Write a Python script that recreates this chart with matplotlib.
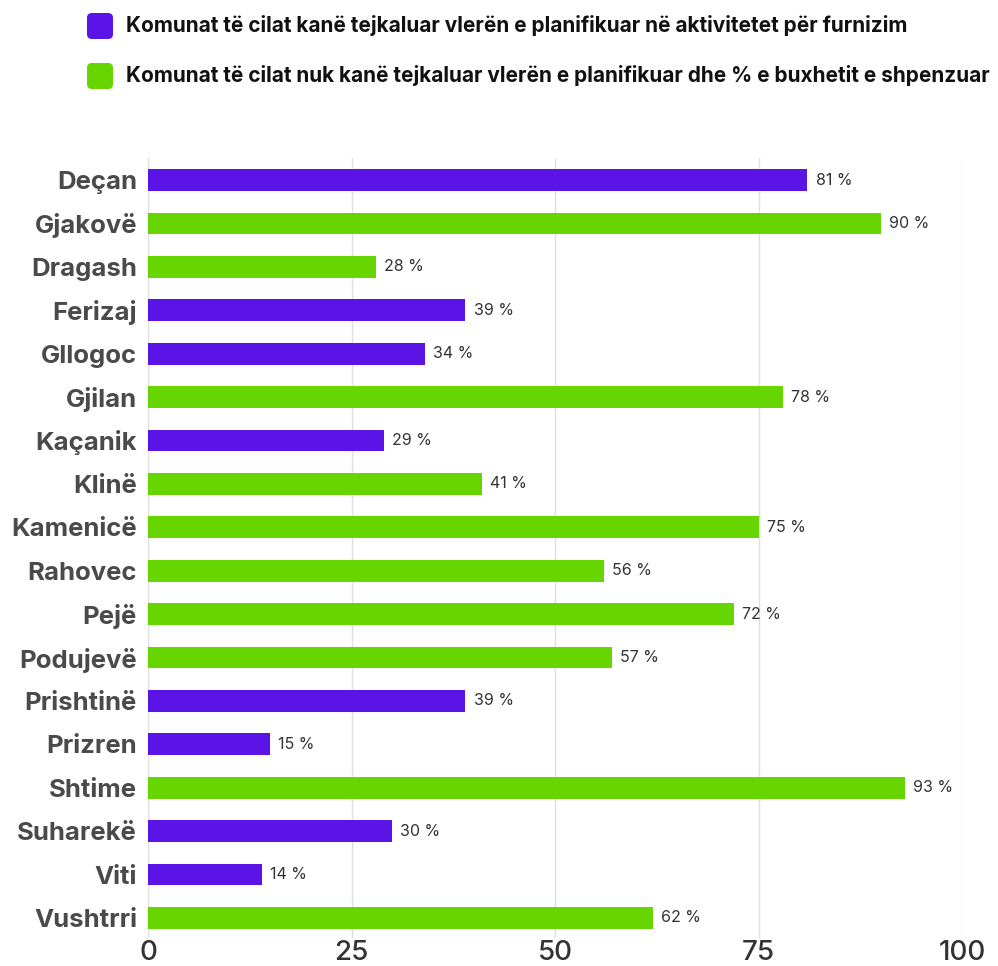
import matplotlib.pyplot as plt
from matplotlib.patches import FancyBboxPatch

komunat = ['Deçan', 'Gjakovë', 'Dragash', 'Ferizaj', 'Gllogoc', 'Gjilan',
           'Kaçanik', 'Klinë', 'Kamenicë', 'Rahovec', 'Pejë', 'Podujevë',
           'Prishtinë', 'Prizren', 'Shtime', 'Suharekë', 'Viti', 'Vushtrri']
vlerat = [81, 90, 28, 39, 34, 78, 29, 41, 75, 56, 72, 57, 39, 15, 93, 30, 14, 62]
# 1 = tejkaluar (vjollce), 0 = nuk kane tejkaluar (jeshile)
tejkaluar = [1, 0, 0, 1, 1, 0, 1, 0, 0, 0, 0, 0, 1, 1, 0, 1, 1, 0]
xticks = [0, 25, 50, 75, 100]
legjenda = ['Komunat të cilat kanë tejkaluar vlerën e planifikuar në aktivitetet për furnizim',
            'Komunat të cilat nuk kanë tejkaluar vlerën e planifikuar dhe % e buxhetit e shpenzuar']

vjollce = '#5A14E6'
jeshile = '#66D500'
ngjyrat = [vjollce if t else jeshile for t in tejkaluar]

plt.rcParams['font.family'] = ['Inter', 'DejaVu Sans']

fig = plt.figure(figsize=(9.98, 9.66), dpi=100)
ax = fig.add_axes([0.1483, 0.0295, 0.8157, 0.8066])

y = list(range(len(komunat)))
ax.barh(y, vlerat, height=0.5, color=ngjyrat, zorder=3)
for yi, v in zip(y, vlerat):
    ax.text(v + 1.0, yi, f'{v} %', va='center', ha='left', fontsize=11.5,
            color='#333333', zorder=4)

ax.set_xlim(0, 100)
ax.set_ylim(17.45, -0.5)
ax.set_yticks(y)
ax.set_yticklabels(komunat, fontsize=18.5, fontweight='bold', color='#4a4a4a')
ax.set_xticks(xticks)
ax.set_xticklabels([str(t) for t in xticks], fontsize=20, fontweight='medium',
                   color='#333333')
ax.tick_params(axis='both', length=0)
ax.tick_params(axis='x', pad=2)
ax.tick_params(axis='y', pad=8)
ax.grid(axis='x', color='#e0e0e0', linewidth=1, zorder=0)
for s in ['top', 'right', 'bottom']:
    ax.spines[s].set_visible(False)
ax.spines['left'].set_color('#e0e0e0')

# legjenda lart
for i, (txt, c) in enumerate(zip(legjenda, [vjollce, jeshile])):
    yy = 1 - (26 + 50 * i) / 966
    sq = FancyBboxPatch((87 / 998, yy - 13 / 966), 26 / 998, 26 / 966,
                        boxstyle='round,pad=0,rounding_size=0.005',
                        transform=fig.transFigure, facecolor=c,
                        edgecolor='none')
    fig.patches.append(sq)
    fig.text(126 / 998, yy, txt, va='center', ha='left', fontsize=15,
             fontweight='bold', color='#111111')

fig.savefig('out.png', dpi=100, facecolor='white')
